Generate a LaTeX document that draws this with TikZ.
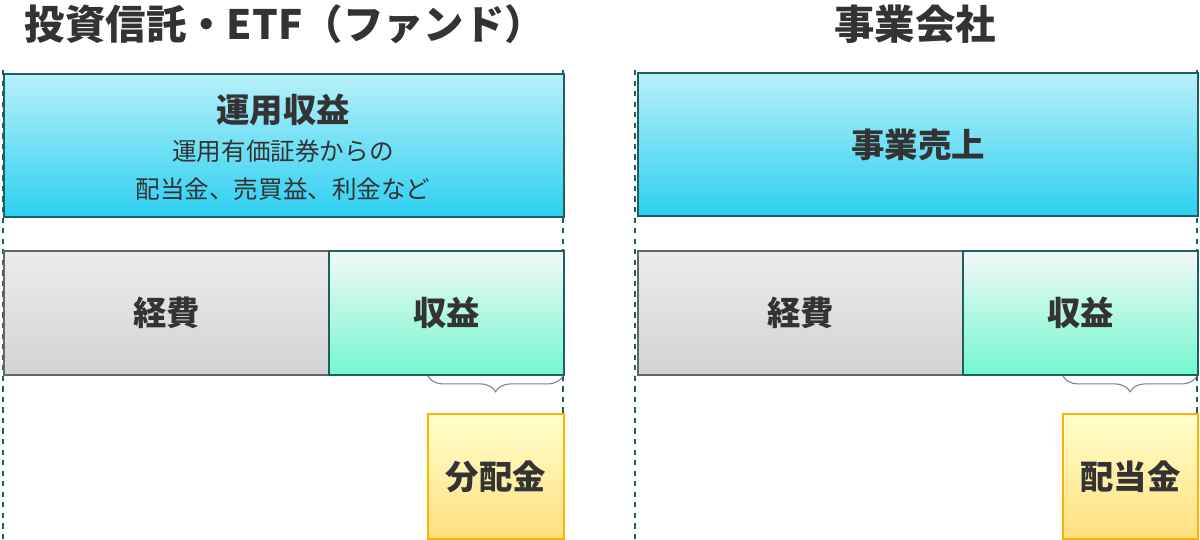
\documentclass[tikz,border=0pt]{standalone}
\usepackage{fontspec}
\setmainfont{Noto Sans CJK JP}
\usetikzlibrary{positioning}
\usetikzlibrary{decorations.pathreplacing}
\definecolor{edge}{HTML}{1E5F60}
\definecolor{ink}{HTML}{333333}
\definecolor{skytop}{HTML}{B8F0FA}
\definecolor{skybot}{HTML}{2CD0F1}
\tikzset{
  box/.style={draw=edge, line width=1.2pt, anchor=north west, inner sep=0pt, align=center, text=ink, font=\bfseries\fontsize{19}{22}\selectfont},
  income/.style={box, top color=skytop, bottom color=skybot, minimum height=2.86cm},
  cost/.style={box, draw=gray!80!black, top color=gray!15, bottom color=gray!35, minimum height=2.48cm},
  profit/.style={box, top color=teal!5!white, bottom color=teal!25!green!40!cyan!55!white, minimum height=2.48cm},
  payout/.style={box, draw=orange!60!yellow, top color=yellow!20!white, bottom color=yellow!50!orange!50!white, minimum width=2.72cm, minimum height=2.5cm},
  guide/.style={edge, dashed, line width=0.6pt},
  curly/.style={gray, line width=0.6pt, decorate, decoration={brace, mirror, amplitude=9pt}},
  heading/.style={text=ink, font=\bfseries\fontsize{23}{26}\selectfont}
}
\begin{document}
\begin{tikzpicture}[x=0.02cm, y=-0.02cm]
  \useasboundingbox (0,0) rectangle (1200,540);

  % fund side
  \node[heading] (fundtitle) at (285,24) {投資信託・ETF（ファンド）};
  \draw[guide] (3,70) -- (3,540);
  \draw[guide] (563,70) -- (563,540);
  \node[income, minimum width=11.2cm] (fundincome) at (3,73) {};
  \node[text=ink, font=\bfseries\fontsize{19}{22}\selectfont] (fundlabel) at (283,110) {運用収益};
  \node[text=ink, font=\fontsize{14}{22}\selectfont, align=center] (fundnote) at (283,170) {運用有価証券からの\\配当金、売買益、利金など};
  \node[cost, minimum width=6.5cm] (fundcost) at (3,250) {経費};
  \node[profit, minimum width=4.7cm] (fundprofit) at (328,250) {収益};
  \coordinate (fundb1) at (428,376);
  \coordinate (fundb2) at (563,376);
  \draw[curly] (fundb1) -- (fundb2);
  \node[payout] (dist) at (427,413) {分配金};

  % company side
  \node[heading] (cotitle) at (915,24) {事業会社};
  \draw[guide] (635,70) -- (635,540);
  \draw[guide] (1197,70) -- (1197,540);
  \node[income, minimum width=11.2cm] (sales) at (637,72) {事業売上};
  \node[cost, minimum width=6.5cm] (cocost) at (637,250) {経費};
  \node[profit, minimum width=4.7cm] (coprofit) at (962,250) {収益};
  \coordinate (cob1) at (1063,376);
  \coordinate (cob2) at (1197,376);
  \draw[curly] (cob1) -- (cob2);
  \node[payout, minimum width=2.7cm] (dividend) at (1062,413) {配当金};
\end{tikzpicture}
\end{document}
